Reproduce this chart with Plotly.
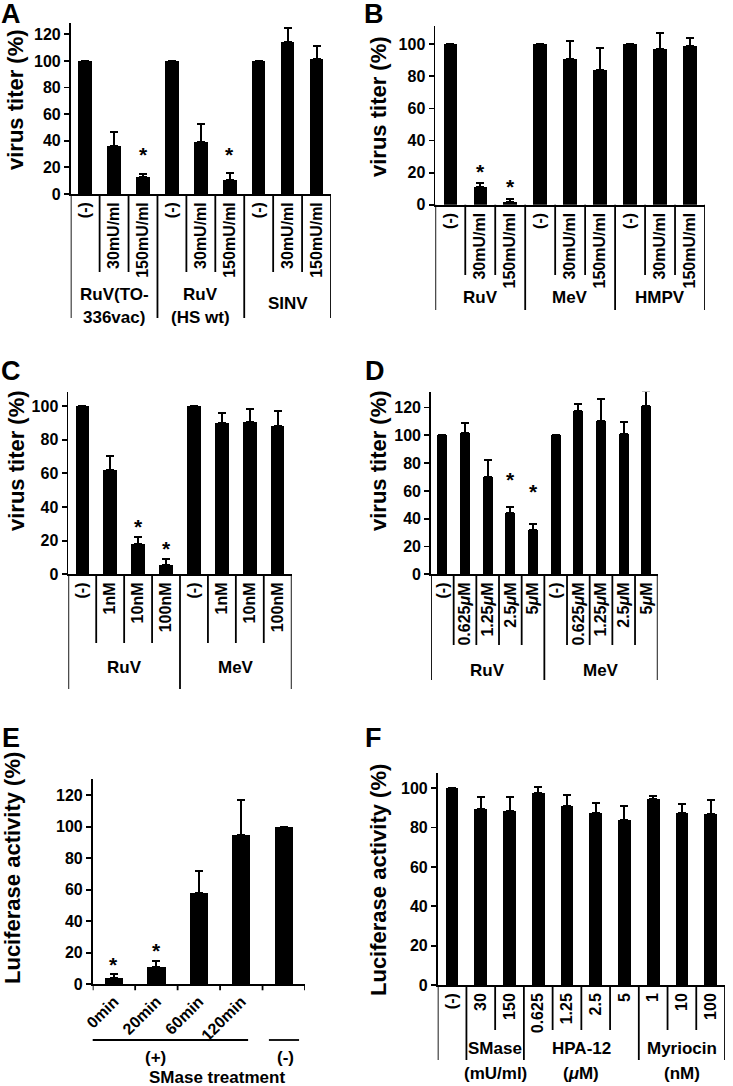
import plotly.graph_objects as go

W, H = 733, 1086

# ---------------- data ----------------
a_labels = ["(-)", "30mU/ml", "150mU/ml", "(-)", "30mU/ml", "150mU/ml", "(-)", "30mU/ml", "150mU/ml"]
a_groups = ["RuV(TO-<br>336vac)", "RuV<br>(HS wt)", "SINV"]
a_group_sizes = [3, 3, 3]
a_values = [100, 36, 12.5, 100, 39, 10.5, 100, 114.5, 101.3]
a_errors = [0, 10.8, 2.8, 0, 13.3, 5.5, 0, 10.3, 10.2]
a_sig_idx = [2, 5]
a_sig_y = [27, 27]
a_yticks = [0, 20, 40, 60, 80, 100, 120]

b_labels = ["(-)", "30mU/ml", "150mU/ml", "(-)", "30mU/ml", "150mU/ml", "(-)", "30mU/ml", "150mU/ml"]
b_groups = ["RuV", "MeV", "HMPV"]
b_group_sizes = [3, 3, 3]
b_values = [100, 11.2, 1.7, 100, 90.6, 84, 100, 97.3, 99]
b_errors = [0, 2.5, 2.0, 0, 11.4, 13.9, 0, 9.8, 5.2]
b_sig_idx = [1, 2]
b_sig_y = [18.5, 9]
b_yticks = [0, 20, 40, 60, 80, 100]

c_labels = ["(-)", "1nM", "10nM", "100nM", "(-)", "1nM", "10nM", "100nM"]
c_groups = ["RuV", "MeV"]
c_group_sizes = [4, 4]
c_values = [100, 61.8, 17.8, 5.7, 100, 89.7, 90.7, 88.3]
c_errors = [0, 8.3, 4.2, 3.6, 0, 6.1, 7.7, 8.9]
c_sig_idx = [2, 3]
c_sig_y = [26, 12.9]
c_yticks = [0, 20, 40, 60, 80, 100]

d_labels = ["(-)", "0.625<i>μ</i>M", "1.25<i>μ</i>M", "2.5<i>μ</i>M", "5<i>μ</i>M",
            "(-)", "0.625<i>μ</i>M", "1.25<i>μ</i>M", "2.5<i>μ</i>M", "5<i>μ</i>M"]
d_groups = ["RuV", "MeV"]
d_group_sizes = [5, 5]
d_values = [100, 101.8, 69.8, 43.9, 32.2, 100, 117.6, 110.4, 100.8, 121]
d_errors = [0, 7.4, 12.8, 4.3, 4.0, 0, 5.0, 15.6, 8.9, 11]
d_sig_idx = [3, 4]
d_sig_y = [65, 56.6]
d_yticks = [0, 20, 40, 60, 80, 100, 120]

e_labels = ["0min", "20min", "60min", "120min", ""]
e_groups = ["(+)", "(-)"]
e_group_members = [[0, 1, 2, 3], [4]]
e_caption = "SMase treatment"
e_values = [3.8, 11.2, 57.7, 94.9, 100]
e_errors = [2.5, 3.6, 14.3, 21.7, 0]
e_sig_idx = [0, 1]
e_sig_y = [10, 19.2]
e_yticks = [0, 20, 40, 60, 80, 100, 120]

f_labels = ["(-)", "30", "150", "0.625", "1.25", "2.5", "5", "1", "10", "100"]
f_groups = ["", "SMase<br>(mU/ml)", "HPA-12<br>(<i>μ</i>M)", "Myriocin<br>(nM)"]
f_group_sizes = [1, 2, 4, 3]
f_values = [100, 89.5, 88.5, 97.5, 91.2, 87.3, 83.7, 94.6, 87.5, 86.9]
f_errors = [0, 6.3, 6.8, 3.0, 5.4, 5.4, 7.3, 1.7, 4.4, 7.3]
f_sig_idx = []
f_sig_y = []
f_yticks = [0, 20, 40, 60, 80, 100]

# ---------------- layout config (pixel positions) ----------------
panels = [
    dict(letter="A", labels=a_labels, values=a_values, errors=a_errors, sig_idx=a_sig_idx, sig_y=a_sig_y,
         groups=a_groups, sizes=a_group_sizes, yticks=a_yticks, ytitle="virus titer (%)",
         ax=(70.7, 331), ay=(194, 23), ymax=128.5, bw=0.47, letter_pos=(11, 14), title_pos=(16, 100),
         short_end=272, long_end=318, g1=303, g2=[295, 317]),
    dict(letter="B", labels=b_labels, values=b_values, errors=b_errors, sig_idx=b_sig_idx, sig_y=b_sig_y,
         groups=b_groups, sizes=b_group_sizes, yticks=b_yticks, ytitle="virus titer (%)",
         ax=(435.3, 705), ay=(204.7, 26), ymax=111.4, bw=0.45, letter_pos=(374, 14), title_pos=(378, 107),
         short_end=275, long_end=310, g1=297, g2=[290, 310]),
    dict(letter="C", labels=c_labels, values=c_values, errors=c_errors, sig_idx=c_sig_idx, sig_y=c_sig_y,
         groups=c_groups, sizes=c_group_sizes, yticks=c_yticks, ytitle="virus titer (%)",
         ax=(68.3, 291.7), ay=(574.3, 391.7), ymax=108.5, bw=0.48, letter_pos=(11, 371), title_pos=(16, 461),
         short_end=643, long_end=689, g1=667, g2=[660, 680]),
    dict(letter="D", labels=d_labels, values=d_values, errors=d_errors, sig_idx=d_sig_idx, sig_y=d_sig_y,
         groups=d_groups, sizes=d_group_sizes, yticks=d_yticks, ytitle="virus titer (%)",
         ax=(431, 657.7), ay=(574.3, 391.7), ymax=131.4, bw=0.44, letter_pos=(375, 371), title_pos=(378, 461),
         short_end=645, long_end=680, g1=670, g2=[660, 680]),
    dict(letter="E", labels=e_labels, values=e_values, errors=e_errors, sig_idx=e_sig_idx, sig_y=e_sig_y,
         groups=None, sizes=None, yticks=e_yticks, ytitle="Luciferase activity (%)",
         ax=(92.7, 305), ay=(984.3, 779.3), ymax=130, bw=0.43, letter_pos=(11, 738), title_pos=(12, 868)),
    dict(letter="F", labels=f_labels, values=f_values, errors=f_errors, sig_idx=f_sig_idx, sig_y=f_sig_y,
         groups=f_groups, sizes=f_group_sizes, yticks=f_yticks, ytitle="Luciferase activity (%)",
         ax=(437.7, 725), ay=(985, 773.3), ymax=107.6, bw=0.44, letter_pos=(373, 738), title_pos=(378, 880),
         short_end=1030, long_end=1060, g1=1060, g2=[1048, 1073]),
]

FONT = "Liberation Sans, Arial, Helvetica, sans-serif"
LW = 1.8


def pxx(p):
    return p / W


def pxy(p):
    return 1 - p / H


fig = go.Figure()
shapes = []
annotations = []
layout_axes = {}

for i, p in enumerate(panels, start=1):
    xr = "x" if i == 1 else f"x{i}"
    yr = "y" if i == 1 else f"y{i}"
    xa = "xaxis" if i == 1 else f"xaxis{i}"
    ya = "yaxis" if i == 1 else f"yaxis{i}"
    n = len(p["values"])
    cats = list(range(n))
    err_plus = [e if e > 0 else None for e in p["errors"]]

    fig.add_trace(go.Bar(
        x=cats, y=p["values"], width=p["bw"], xaxis=xr, yaxis=yr, showlegend=False,
        marker=dict(color="black", line=dict(width=0)),
        error_y=dict(type="data", array=err_plus, arrayminus=[0] * n, symmetric=False,
                     color="black", thickness=2, width=4),
    ))

    is_e = p["letter"] == "E"
    layout_axes[xa] = dict(
        domain=[pxx(p["ax"][0]), pxx(p["ax"][1])], range=[-0.5, n - 0.5], anchor=yr,
        tickmode="array", tickvals=cats, ticktext=p["labels"], automargin=False,
        tickangle=-45 if is_e else -90, ticks="", showline=True, linecolor="black", linewidth=LW,
        showgrid=False, zeroline=False, fixedrange=True,
        tickfont=dict(family=FONT, size=16, color="black", weight="bold"),
    )
    layout_axes[ya] = dict(
        domain=[pxy(p["ay"][0]), pxy(p["ay"][1])], range=[0, p["ymax"]], anchor=xr, automargin=False,
        tickmode="array", tickvals=p["yticks"], ticks="outside", ticklen=5, tickwidth=LW,
        tickcolor="black", showline=True, linecolor="black", linewidth=LW,
        showgrid=False, zeroline=False, fixedrange=True,
        tickfont=dict(family=FONT, size=16, color="black", weight="bold"),
    )

    # panel letter
    annotations.append(dict(text=p["letter"], xref="paper", yref="paper",
                            x=pxx(p["letter_pos"][0]), y=pxy(p["letter_pos"][1]),
                            xanchor="center", yanchor="middle", showarrow=False,
                            font=dict(family=FONT, size=27, color="black", weight="bold")))
    # y-axis title
    annotations.append(dict(text=p["ytitle"], xref="paper", yref="paper",
                            x=pxx(p["title_pos"][0]), y=pxy(p["title_pos"][1]),
                            xanchor="center", yanchor="middle", textangle=-90, showarrow=False,
                            font=dict(family=FONT, size=22, color="black", weight="bold")))
    # significance asterisks
    for k, sy in zip(p["sig_idx"], p["sig_y"]):
        annotations.append(dict(text="*", xref=xr, yref=yr, x=k, y=sy, xanchor="center",
                                yanchor="middle", yshift=4, showarrow=False,
                                font=dict(family=FONT, size=21, color="black", weight="bold")))

    if not is_e:
        # separators under the axis
        bounds = [-0.5]
        for s in p["sizes"]:
            bounds.append(bounds[-1] + s)
        group_edges = set(bounds)
        for b in range(n + 1):
            bx = b - 0.5
            end = p["long_end"] if bx in group_edges else p["short_end"]
            shapes.append(dict(type="line", xref=xr, yref="paper", x0=bx, x1=bx,
                               y0=pxy(p["ay"][0]), y1=pxy(end),
                               line=dict(color="black", width=LW)))
        # group labels
        for gi, g in enumerate(p["groups"]):
            if not g:
                continue
            cx = (bounds[gi] + bounds[gi + 1]) / 2
            lines = g.split("<br>")
            ys = [p["g1"]] if len(lines) == 1 else p["g2"]
            for line, ly in zip(lines, ys):
                annotations.append(dict(text=line, xref=xr, yref="paper", x=cx, y=pxy(ly),
                                        xanchor="center", yanchor="middle", showarrow=False,
                                        font=dict(family=FONT, size=17, color="black", weight="bold")))
    else:
        # tick marks at category boundaries
        for b in range(n + 1):
            bx = b - 0.5
            shapes.append(dict(type="line", xref=xr, yref="paper", x0=bx, x1=bx,
                               y0=pxy(p["ay"][0]), y1=pxy(p["ay"][0] + 6),
                               line=dict(color="black", width=LW)))
        pads = [(0.66, 0.16), (0.35, 0.36)]
        label_x = [0.97, 4.03]
        for gname, members, (pl, pr), lx in zip(e_groups, e_group_members, pads, label_x):
            shapes.append(dict(type="line", xref=xr, yref="paper",
                               x0=members[0] - pl, x1=members[-1] + pr,
                               y0=pxy(1040), y1=pxy(1040), line=dict(color="black", width=LW)))
            annotations.append(dict(text=gname, xref=xr, yref="paper", x=lx, y=pxy(1057),
                                    xanchor="center", yanchor="middle", showarrow=False,
                                    font=dict(family=FONT, size=17, color="black", weight="bold")))
        annotations.append(dict(text=e_caption, xref=xr, yref="paper", x=2.43, y=pxy(1077),
                                xanchor="center", yanchor="middle", showarrow=False,
                                font=dict(family=FONT, size=17, color="black", weight="bold")))

fig.update_layout(
    width=W, height=H, margin=dict(l=0, r=0, t=0, b=0, autoexpand=False),
    paper_bgcolor="white", plot_bgcolor="white",
    font=dict(family=FONT, size=16, color="black", weight="bold"),
    shapes=shapes, annotations=annotations, bargap=0,
    **layout_axes,
)

fig.write_html("out.html", config={"displayModeBar": False, "staticPlot": True},
               post_script="document.body.style.margin='0';document.body.style.padding='0';")
